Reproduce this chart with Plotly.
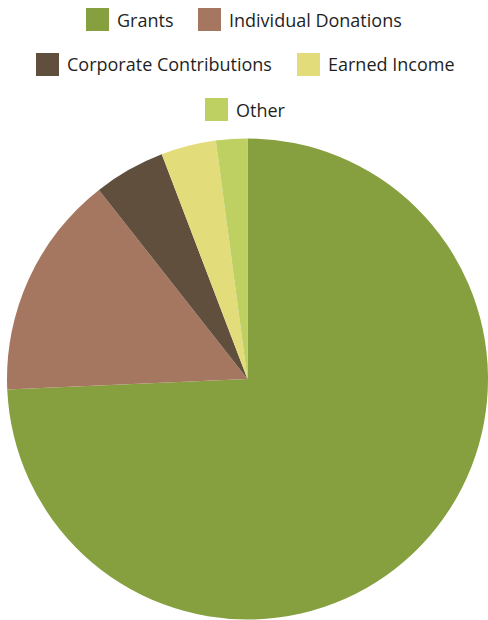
import plotly.graph_objects as go

labels = ["Grants", "Individual Donations", "Corporate Contributions", "Earned Income", "Other"]
values = [74.3, 15.1, 4.8, 3.7, 2.1]
colors = ["#86a03f", "#a67760", "#614f3e", "#e2dc7b", "#bfd062"]

W, H = 488, 620

fig = go.Figure(go.Pie(
    labels=labels, values=values, sort=False, direction="clockwise", rotation=0,
    marker=dict(colors=colors, line=dict(width=0)),
    textinfo="none", hoverinfo="label+percent", showlegend=False,
    domain=dict(x=[7 / W, 1], y=[0, (H - 138) / H]),
))

# custom legend (pixel positions of square left edge and top, per entry)
legend_pos = [(86, 8), (198, 8), (36, 53), (297, 53), (205, 98)]
sq = 23
for (px, py), lab, col in zip(legend_pos, labels, colors):
    fig.add_shape(type="rect", xref="paper", yref="paper",
                  x0=px / W, x1=(px + sq) / W, y0=1 - (py + sq) / H, y1=1 - py / H,
                  fillcolor=col, line=dict(width=0))
    fig.add_annotation(xref="paper", yref="paper", x=(px + sq + 6) / W, y=1 - (py + sq / 2) / H,
                       text=lab, showarrow=False, xanchor="left", yanchor="middle",
                       font=dict(family="Open Sans", size=18, color="#1f1f1f"))

fig.update_layout(width=W, height=H, margin=dict(l=0, r=0, t=0, b=0),
                  paper_bgcolor="white", plot_bgcolor="white")
fig.write_html("out.html")
